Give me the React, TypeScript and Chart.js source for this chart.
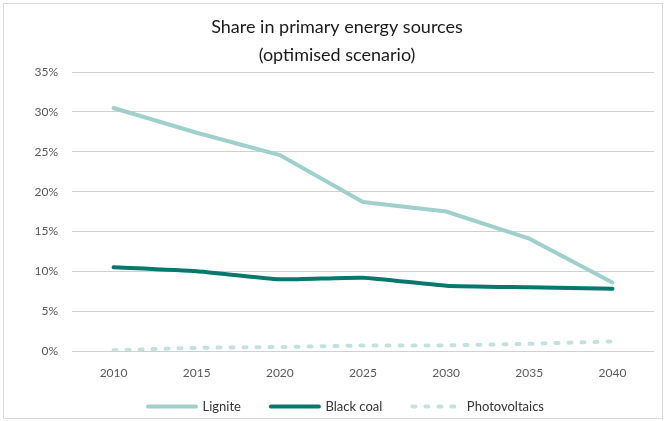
import React, { useEffect, useRef } from "react";
import { Chart, registerables } from "chart.js";

Chart.register(...registerables);

const years = ["2010", "2015", "2020", "2025", "2030", "2035", "2040"];
const lignite = [30.5, 27.4, 24.6, 18.7, 17.5, 14.1, 8.6];
const blackCoal = [10.5, 10.0, 9.0, 9.2, 8.2, 8.0, 7.8];
const photovoltaics = [0.1, 0.4, 0.5, 0.7, 0.7, 0.9, 1.2];
const titleLines = ["Share in primary energy sources", "(optimised scenario)"];

const legendShift = {
  id: "legendShift",
  afterLayout(chart: any) {
    const lg = chart.legend;
    if (!lg) return;
    lg.top -= 12;
    lg.bottom -= 12;
    lg.left += 9;
    lg.right += 9;
  },
};

export default function App() {
  const ref = useRef<HTMLCanvasElement | null>(null);
  useEffect(() => {
    if (!ref.current) return;
    const font = "Lato, 'Open Sans', sans-serif";
    const chart = new Chart(ref.current, {
      type: "line",
      data: {
        labels: years,
        datasets: [
          {
            label: "Lignite",
            data: lignite,
            borderColor: "#a0d0cb",
            backgroundColor: "#a0d0cb",
            borderWidth: 4,
            pointRadius: 0,
            borderCapStyle: "round",
            tension: 0,
          },
          {
            label: "Black coal",
            data: blackCoal,
            borderColor: "#08786d",
            backgroundColor: "#08786d",
            borderWidth: 4,
            pointRadius: 0,
            borderCapStyle: "round",
            tension: 0.15,
          },
          {
            label: "Photovoltaics",
            data: photovoltaics,
            borderColor: "#c3e2de",
            backgroundColor: "#c3e2de",
            borderWidth: 4,
            pointRadius: 0,
            borderDash: [3, 10],
            borderCapStyle: "round",
            tension: 0,
          },
        ],
      },
      options: {
        animation: false,
        responsive: false,
        maintainAspectRatio: false,
        layout: { padding: { left: 20, right: 11, top: 5, bottom: -14 } },
        plugins: {
          title: {
            display: true,
            text: titleLines,
            color: "#1a1a1a",
            font: { family: font, size: 18, weight: "normal", lineHeight: 1.56 },
            padding: { top: 8, bottom: 3 },
          },
          legend: {
            position: "bottom",
            labels: {
              usePointStyle: true,
              pointStyle: "line",
              pointStyleWidth: 48,
              color: "#333333",
              font: { family: font, size: 13 },
              padding: 30,
              boxHeight: 12,
              generateLabels: (c: any) => {
                const items = Chart.defaults.plugins.legend.labels.generateLabels(c);
                return items.map((it: any, i: number) => {
                  const ds: any = c.data.datasets[i];
                  return {
                    ...it,
                    lineDash: ds.borderDash || [],
                    lineCap: ds.borderCapStyle || "round",
                    lineWidth: ds.borderWidth,
                    strokeStyle: ds.borderColor,
                    fillStyle: ds.borderColor,
                  };
                });
              },
            },
          },
          tooltip: { enabled: false },
        },
        scales: {
          x: {
            offset: true,
            afterFit: (s: any) => { s.height = 31; },
            grid: { display: false, drawTicks: false },
            border: { display: false },
            ticks: { color: "#595959", font: { family: font, size: 12 }, padding: 15 },
          },
          y: {
            min: 0,
            max: 35,
            afterFit: (s: any) => { s.width = 52; },
            ticks: {
              stepSize: 5,
              color: "#595959",
              font: { family: font, size: 12 },
              padding: 14,
              callback: (v: any) => v + "%",
            },
            grid: { color: "#d0d0d0", drawTicks: false, lineWidth: 1 },
            border: { display: false },
          },
        },
      },
      plugins: [legendShift],
    });
    return () => chart.destroy();
  }, []);
  return (
    <div style={{ position: "fixed", left: 0, top: 0, width: 665, height: 421, background: "#fff" }}>
      <canvas ref={ref} width={665} height={421} style={{ position: "absolute", left: 0, top: 0 }} />
      <div
        style={{
          position: "absolute",
          left: 3,
          top: 3,
          width: 658,
          height: 414,
          border: "1px solid #d9d9d9",
          pointerEvents: "none",
        }}
      />
    </div>
  );
}
